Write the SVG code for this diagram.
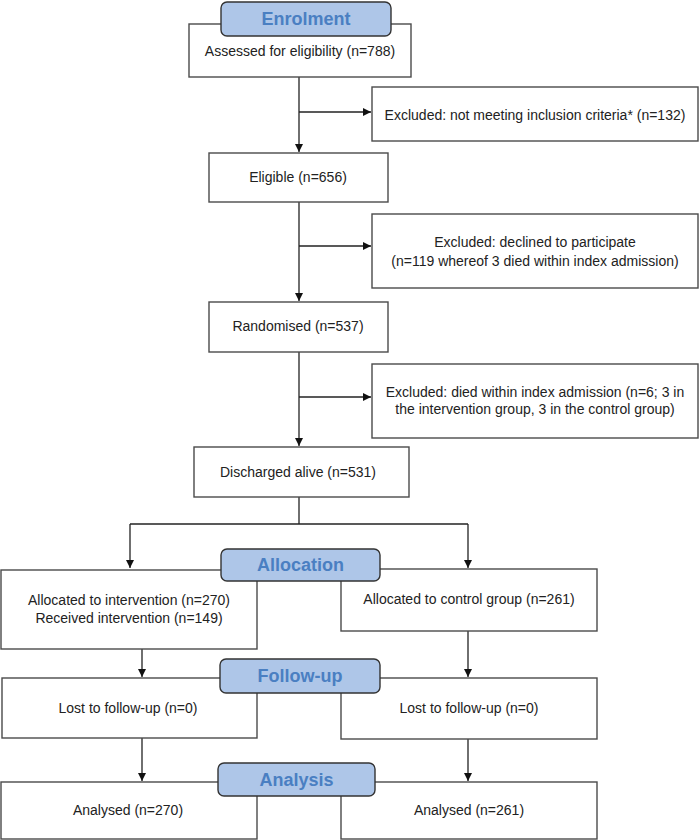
<svg xmlns="http://www.w3.org/2000/svg" width="700" height="840" viewBox="0 0 700 840">
<style>
.box{fill:#fff;stroke:#4a4a4a;stroke-width:1.4}
.lbl{fill:#aec6e8;stroke:#333;stroke-width:1.4}
.t{font-family:"Liberation Sans",Arial,sans-serif;font-size:14px;fill:#222;text-anchor:middle;dominant-baseline:central}
.tn{font-family:"Liberation Sans",Arial,sans-serif;font-size:14px;fill:#222;text-anchor:middle;dominant-baseline:central}
.h{font-family:"Liberation Sans",Arial,sans-serif;font-size:18px;font-weight:bold;fill:#4a7fc2;text-anchor:middle;dominant-baseline:central}
.c{fill:none;stroke:#222;stroke-width:1.3}
</style>
<defs>
<marker id="arr" viewBox="0 0 10 10" refX="10" refY="5" markerWidth="8" markerHeight="8" markerUnits="userSpaceOnUse" orient="auto">
<path d="M0,0 L10,5 L0,10 z" fill="#111"/>
</marker>
</defs>
<rect width="700" height="840" fill="#fff"/>
<g id="connectors">
<path class="c" d="M299,77 V152" marker-end="url(#arr)"/>
<path class="c" d="M299,112 H371" marker-end="url(#arr)"/>
<path class="c" d="M299,202 V301" marker-end="url(#arr)"/>
<path class="c" d="M299,246 H371" marker-end="url(#arr)"/>
<path class="c" d="M299,352 V446" marker-end="url(#arr)"/>
<path class="c" d="M299,397 H371" marker-end="url(#arr)"/>
<path class="c" d="M299,497 V524"/>
<path class="c" d="M130,524 H468"/>
<path class="c" d="M130,524 V568" marker-end="url(#arr)"/>
<path class="c" d="M468,524 V568" marker-end="url(#arr)"/>
<path class="c" d="M142,649 V677" marker-end="url(#arr)"/>
<path class="c" d="M468,631 V677" marker-end="url(#arr)"/>
<path class="c" d="M142,738 V781" marker-end="url(#arr)"/>
<path class="c" d="M468,739 V781" marker-end="url(#arr)"/>
</g>
<g id="assessed"><rect class="box" x="189" y="24" width="222" height="53"/><text class="t" x="300" y="51">Assessed for eligibility (n=788)</text></g>
<g id="excluded1"><rect class="box" x="372" y="87" width="326" height="54"/><text class="t" x="535" y="115">Excluded: not meeting inclusion criteria* (n=132)</text></g>
<g id="eligible"><rect class="box" x="209" y="153" width="179" height="49"/><text class="t" x="298" y="177">Eligible (n=656)</text></g>
<g id="excluded2"><rect class="box" x="372" y="214" width="326" height="74"/><text class="t" x="535" y="242">Excluded: declined to participate</text><text class="t" x="535" y="261">(n=119 whereof 3 died within index admission)</text></g>
<g id="randomised"><rect class="box" x="209" y="302" width="179" height="50"/><text class="t" x="298" y="326">Randomised (n=537)</text></g>
<g id="excluded3"><rect class="box" x="372" y="364" width="326" height="74"/><text class="t" x="535" y="392">Excluded: died within index admission (n=6; 3 in</text><text class="t" x="535" y="409">the intervention group, 3 in the control group)</text></g>
<g id="discharged"><rect class="box" x="194" y="447" width="215" height="50"/><text class="t" x="298" y="472">Discharged alive (n=531)</text></g>
<g id="alloc-int"><rect class="box" x="1" y="570" width="256" height="79"/><text class="tn" x="129" y="600">Allocated to intervention (n=270)</text><text class="tn" x="129" y="618">Received intervention (n=149)</text></g>
<g id="alloc-ctl"><rect class="box" x="341" y="569" width="256" height="62"/><text class="tn" x="469" y="599">Allocated to control group (n=261)</text></g>
<g id="lost-int"><rect class="box" x="2" y="678" width="255" height="60"/><text class="tn" x="128" y="708">Lost to follow-up (n=0)</text></g>
<g id="lost-ctl"><rect class="box" x="341" y="678" width="256" height="61"/><text class="tn" x="469" y="708">Lost to follow-up (n=0)</text></g>
<g id="anal-int"><rect class="box" x="1" y="782" width="256" height="57"/><text class="tn" x="128" y="810">Analysed (n=270)</text></g>
<g id="anal-ctl"><rect class="box" x="341" y="782" width="256" height="57"/><text class="tn" x="469" y="810">Analysed (n=261)</text></g>
<g id="lbl-enrolment"><rect class="lbl" x="221" y="2" width="170" height="34" rx="6"/><text class="h" x="306" y="19">Enrolment</text></g>
<g id="lbl-allocation"><rect class="lbl" x="221" y="549" width="159" height="32" rx="6"/><text class="h" x="300.5" y="565">Allocation</text></g>
<g id="lbl-followup"><rect class="lbl" x="220" y="659" width="160" height="34" rx="6"/><text class="h" x="300" y="676">Follow-up</text></g>
<g id="lbl-analysis"><rect class="lbl" x="218" y="763" width="157" height="33" rx="6"/><text class="h" x="296.5" y="779.5">Analysis</text></g>
</svg>
